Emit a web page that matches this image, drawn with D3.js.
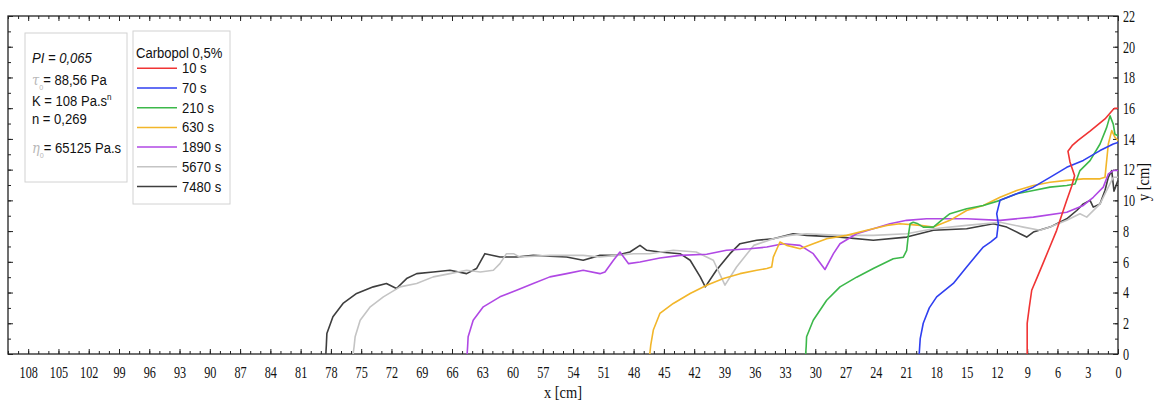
<!DOCTYPE html>
<html>
<head>
<meta charset="utf-8">
<script src="https://cdn.jsdelivr.net/npm/d3@7"></script>
<style>
  html, body { margin: 0; padding: 0; background: #fff; }
  svg { display: block; }
  .tick text { font-family: "Liberation Serif", "DejaVu Serif", serif; font-size: 16.5px; fill: #111; }
  .axis path, .axis line { stroke: #222; }
  .leg { font-family: "Liberation Sans", Arial, sans-serif; font-size: 14.5px; fill: #111; }
</style>
</head>
<body>
<svg id="chart" width="1160" height="405"></svg>
<script>
// Front profiles y(x) of Carbopol 0.5% at successive times, [x cm, y cm]
const s10   = [[9.0,0],[9.0,1],[9.0,2],[8.8,3],[8.55,4.15],[8.0,5.0],[7.43,5.9],[6.8,6.9],[6.08,8.05],[5.6,9.0],[5.08,10.0],[4.6,10.9],[4.3,11.6],[4.5,12.0],[4.76,12.5],[4.96,13.2],[4.5,13.6],[3.96,13.9],[2.77,14.5],[1.29,15.3],[0.5,15.9],[0.3,16.0],[0,16.0]];
const s70   = [[19.7,0],[19.6,1],[19.3,2],[18.7,3],[17.97,3.72],[16.32,4.59],[15.0,5.66],[14.2,6.3],[13.35,6.96],[12.6,7.3],[12.02,7.61],[11.86,8.48],[12.02,9.13],[11.69,10.0],[10.04,10.43],[8.39,10.86],[6.74,11.5],[5.08,12.15],[3.44,12.6],[1.78,13.24],[0.47,13.67],[0,13.76]];
const s210  = [[30.95,0],[30.9,0.5],[30.86,1.12],[30.2,2.2],[28.87,3.5],[27.55,4.37],[25.9,5.0],[24.25,5.56],[22.27,6.2],[21.28,6.3],[20.94,6.75],[20.8,7.6],[20.6,8.48],[20.29,8.58],[19.9,8.5],[19.3,8.26],[18.3,8.26],[17.5,8.7],[16.65,9.13],[15.0,9.45],[13.35,9.67],[11.69,10.0],[10.04,10.43],[8.39,10.64],[6.74,10.86],[5.08,10.97],[4.26,11.07],[3.77,11.94],[2.77,12.59],[1.78,13.67],[1.12,14.75],[0.79,15.5],[0.47,14.96],[0.3,14.3],[0,14.2]];
const s630  = [[46.4,0],[46.3,0.6],[46.05,1.56],[45.4,2.64],[44.07,3.29],[42.4,3.94],[40.76,4.48],[39.1,4.91],[37.46,5.23],[35.8,5.45],[34.8,5.56],[34.32,5.66],[34.16,6.31],[33.5,7.29],[32.83,7.07],[31.5,6.85],[30.2,7.18],[28.87,7.5],[26.9,7.72],[24.9,8.05],[22.9,8.37],[21.6,8.48],[19.6,8.37],[18.3,8.26],[16.65,8.7],[15.0,9.34],[13.35,9.67],[11.69,10.2],[10.04,10.64],[8.39,10.97],[6.74,11.18],[5.08,11.3],[3.44,11.4],[1.78,11.4],[1.29,11.5],[0.96,13.67],[0.62,14.54],[0.3,14.1],[0,13.9]];
const s1890 = [[64.5,0],[64.45,0.5],[64.4,1.12],[63.9,2.2],[62.9,3.07],[61.25,3.72],[59.6,4.15],[57.95,4.59],[56.3,5.02],[54.64,5.23],[53.0,5.45],[51.34,5.23],[50.84,5.34],[50.0,6.1],[49.36,6.64],[48.5,5.88],[47.37,5.99],[45.4,6.25],[43.4,6.42],[40.76,6.49],[38.8,6.75],[36.5,6.85],[34.8,6.96],[33.17,7.18],[31.5,7.07],[30.2,6.53],[29.04,5.5],[28.2,6.53],[27.55,7.18],[25.9,7.83],[24.25,8.15],[22.6,8.48],[20.94,8.7],[18.97,8.8],[15.0,8.8],[11.69,8.7],[8.39,8.91],[5.08,9.23],[3.44,9.67],[2.45,10.2],[1.46,10.86],[0.96,11.72],[0.47,11.94],[0,11.94]];
const s5670 = [[75.8,0],[75.7,0.5],[75.6,1.12],[75.1,2.2],[74.1,3.07],[72.8,3.72],[71.15,4.37],[69.5,4.59],[67.86,5.02],[66.2,5.23],[64.55,5.45],[63.2,5.34],[61.9,5.45],[61.25,5.88],[60.6,6.53],[59.9,6.53],[59.3,6.31],[56.3,6.42],[53.0,6.42],[51.34,6.31],[49.7,6.42],[48.0,6.53],[46.4,6.53],[44.07,6.75],[41.8,6.64],[40.1,6.1],[38.95,4.48],[37.8,5.66],[36.1,7.07],[34.16,7.5],[32.5,7.72],[30.86,7.83],[27.55,7.72],[24.25,7.72],[20.94,7.83],[18.3,8.15],[15.0,8.37],[11.69,8.58],[9.38,8.26],[7.73,8.05],[6.74,8.26],[5.08,8.7],[3.77,9.13],[3.1,8.91],[1.78,9.77],[0.96,10.86],[0.47,11.5],[0,11.5]];
const s7480 = [[78.5,0],[78.45,0.6],[78.4,1.34],[77.8,2.42],[76.8,3.29],[75.45,3.94],[73.8,4.37],[72.5,4.59],[71.5,4.26],[70.5,4.91],[69.5,5.23],[67.86,5.34],[66.2,5.45],[64.55,5.23],[63.57,5.56],[62.74,6.53],[61.25,6.31],[59.6,6.31],[57.95,6.42],[54.64,6.31],[53.0,6.1],[51.34,6.42],[49.7,6.42],[48.37,6.64],[47.37,7.07],[46.7,6.75],[45.4,6.64],[43.4,6.53],[42.4,6.1],[41.4,5.02],[40.9,4.37],[39.8,5.45],[38.45,6.53],[37.46,7.18],[35.8,7.4],[34.16,7.5],[32.2,7.83],[30.86,7.72],[27.55,7.61],[24.25,7.4],[20.94,7.61],[18.3,8.05],[15.0,8.15],[12.36,8.48],[11.03,8.26],[9.71,7.83],[9.05,7.61],[8.39,7.94],[6.74,8.26],[5.08,8.8],[4.09,9.34],[3.44,9.77],[2.77,10.0],[2.45,9.56],[1.78,9.77],[1.29,10.64],[0.96,11.5],[0.62,11.94],[0.4,10.6],[0,11.3]];

const seriesNames  = ["10 s", "70 s", "210 s", "630 s", "1890 s", "5670 s", "7480 s"];
const seriesData   = [s10, s70, s210, s630, s1890, s5670, s7480];
const seriesColors = ["#f03434", "#2f3ff0", "#3cb84a", "#f2b62a", "#b048e4", "#c4c4c4", "#3e3e3e"];

const xTickLabels = d3.range(108, -1, -3);   // 108, 105, ..., 0
const yTickLabels = d3.range(0, 23, 2);      // 0, 2, ..., 22

const svg = d3.select("#chart");
const L = 8, R = 1118, T = 16, B = 354;

const x = d3.scaleLinear().domain([110, 0]).range([L, R]);
const y = d3.scaleLinear().domain([0, 22]).range([B, T]);

const TX = 0.74; // narrow serif tick numerals
const LX = 0.9;  // narrow legend lettering

// minor ticks (1 cm)
const xMinor = d3.range(0, 111, 1);
const yMinor = d3.range(0, 23, 1);

function minorAxis(axis, vals) {
  return axis.tickValues(vals).tickSize(-3).tickFormat("");
}

svg.append("g").attr("class", "axis").attr("transform", `translate(0,${B})`)
  .call(minorAxis(d3.axisBottom(x), xMinor)).call(g => g.select(".domain").remove());
svg.append("g").attr("class", "axis").attr("transform", `translate(0,${T})`)
  .call(minorAxis(d3.axisTop(x), xMinor)).call(g => g.select(".domain").remove());
svg.append("g").attr("class", "axis").attr("transform", `translate(${R},0)`)
  .call(minorAxis(d3.axisRight(y), yMinor)).call(g => g.select(".domain").remove());
svg.append("g").attr("class", "axis").attr("transform", `translate(${L},0)`)
  .call(minorAxis(d3.axisLeft(y), yMinor)).call(g => g.select(".domain").remove());

// major ticks
const xAxis = svg.append("g").attr("class", "axis").attr("transform", `translate(0,${B})`)
  .call(d3.axisBottom(x).tickValues(xTickLabels).tickSize(-5).tickPadding(12).tickFormat(d3.format("d")));
xAxis.select(".domain").remove();
xAxis.selectAll(".tick text").attr("transform", `scale(${TX},1)`);

svg.append("g").attr("class", "axis").attr("transform", `translate(0,${T})`)
  .call(d3.axisTop(x).tickValues(xTickLabels).tickSize(-5).tickFormat(""))
  .call(g => g.select(".domain").remove());

const yAxis = svg.append("g").attr("class", "axis").attr("transform", `translate(${R},0)`)
  .call(d3.axisRight(y).tickValues(yTickLabels).tickSize(-5).tickFormat(d3.format("d")));
yAxis.select(".domain").remove();
yAxis.selectAll(".tick text").attr("x", 5 / TX).attr("transform", `scale(${TX},1)`);

svg.append("g").attr("class", "axis").attr("transform", `translate(${L},0)`)
  .call(d3.axisLeft(y).tickValues(yTickLabels).tickSize(-5).tickFormat(""))
  .call(g => g.select(".domain").remove());

// frame
svg.append("rect").attr("x", L).attr("y", T).attr("width", R - L).attr("height", B - T)
  .attr("fill", "none").attr("stroke", "#222").attr("stroke-width", 1.3);

// axis titles
svg.append("text").attr("transform", `translate(563,398) scale(0.85,1)`)
  .attr("text-anchor", "middle").attr("font-family", "Liberation Serif, serif")
  .attr("font-size", 17).attr("fill", "#111").text("x [cm]");
svg.append("text").attr("transform", `translate(1149,182) rotate(-90) scale(0.85,1)`)
  .attr("text-anchor", "middle").attr("font-family", "Liberation Serif, serif")
  .attr("font-size", 17).attr("fill", "#111").text("y [cm]");

// profiles, latest first so the early fronts sit on top
const line = d3.line().x(d => x(d[0])).y(d => y(d[1]));
const plot = svg.append("g");
for (let i = seriesData.length - 1; i >= 0; i--) {
  plot.append("path").attr("d", line(seriesData[i]))
    .attr("fill", "none").attr("stroke", seriesColors[i])
    .attr("stroke-width", 1.6).attr("stroke-linejoin", "round");
}

function legText(g, px, py) {
  return g.append("text").attr("transform", `translate(${px},${py}) scale(${LX},1)`);
}

// rheology parameters box
svg.append("rect").attr("x", 25).attr("y", 33).attr("width", 102).attr("height", 149)
  .attr("fill", "#fff").attr("stroke", "#d2d2d2");
const p = svg.append("g").attr("class", "leg");
legText(p, 32, 63).attr("font-style", "italic").text("PI = 0,065");
const t1 = legText(p, 32, 85);
t1.append("tspan").attr("fill", "#b8b8b8").attr("font-family", "DejaVu Serif, serif").attr("font-style", "italic").text("τ");
t1.append("tspan").attr("fill", "#b8b8b8").attr("font-size", 8).attr("dy", 5).text("0");
t1.append("tspan").attr("dy", -5).text("= 88,56 Pa");
const t2 = legText(p, 32, 106);
t2.append("tspan").text("K = 108 Pa.s");
t2.append("tspan").attr("font-size", 9).attr("dy", -6).text("n");
legText(p, 32, 124).text("n = 0,269");
const t3 = legText(p, 32, 153);
t3.append("tspan").attr("fill", "#b8b8b8").attr("font-family", "DejaVu Serif, serif").attr("font-style", "italic").text("η");
t3.append("tspan").attr("fill", "#b8b8b8").attr("font-size", 8).attr("dy", 5).text("0");
t3.append("tspan").attr("dy", -5).text("= 65125 Pa.s");

// series legend
svg.append("rect").attr("x", 133).attr("y", 31).attr("width", 97).attr("height", 173)
  .attr("fill", "#fff").attr("stroke", "#d2d2d2");
const lg = svg.append("g").attr("class", "leg");
legText(lg, 136, 58).text("Carbopol 0,5%");
seriesNames.forEach((name, i) => {
  const yy = 68.3 + i * 19.7;
  lg.append("line").attr("x1", 137).attr("x2", 177).attr("y1", yy).attr("y2", yy)
    .attr("stroke", seriesColors[i]).attr("stroke-width", 1.5);
  legText(lg, 182, yy + 5).text(name);
});
</script>
</body>
</html>
